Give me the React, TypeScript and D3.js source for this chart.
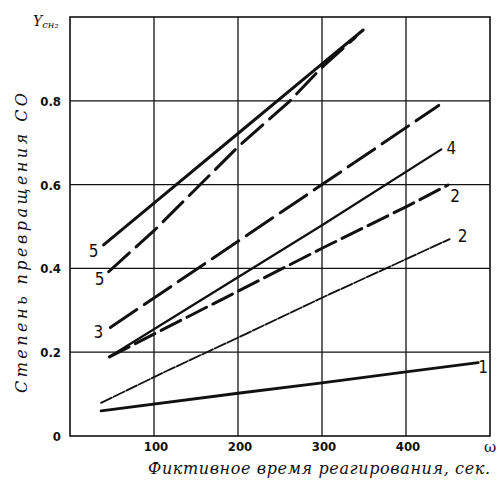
import React from "react";
import * as d3 from "d3";

const W = 498;
const H = 481;

// Axis ticks
const xTicks = [100, 200, 300, 400];
const yTicks = [0, 0.2, 0.4, 0.6, 0.8];
const yTickLabels = ["0", "0.2", "0.4", "0.6", "0.8"];

// Series data (x = fictitious reaction time, s; y = CO conversion)
const s1x = [37, 200, 300, 400, 486];
const s1y = [0.06, 0.102, 0.127, 0.153, 0.175];

const s2lx = [37, 115, 214, 300, 400, 452];
const s2ly = [0.079, 0.155, 0.248, 0.33, 0.422, 0.47];

const s2ux = [47, 300, 400, 450];
const s2uy = [0.189, 0.448, 0.547, 0.599];

const s3x = [48, 300, 439];
const s3y = [0.259, 0.6, 0.789];

const s4x = [47, 300, 442];
const s4y = [0.189, 0.503, 0.684];

const s5ux = [40, 100, 200, 300, 349];
const s5uy = [0.456, 0.556, 0.722, 0.888, 0.969];

const s5lx = [46, 100, 200, 262, 300, 340];
const s5ly = [0.392, 0.49, 0.69, 0.8, 0.88, 0.952];

const seriesNames = ["1", "2", "2", "3", "4", "5", "5"];

// styles per series (same order)
const seriesStyles = [
  { xs: s1x, ys: s1y, w: 2.8, dash: "", lab: "end", dx: 5, dy: 10 },
  { xs: s2lx, ys: s2ly, w: 1.8, dash: "12,2", lab: "end", dx: 13, dy: 3 },
  { xs: s2ux, ys: s2uy, w: 3, dash: "22,7", lab: "end", dx: 7, dy: 17 },
  { xs: s3x, ys: s3y, w: 3, dash: "32,9", lab: "start", dx: -12, dy: 11 },
  { xs: s4x, ys: s4y, w: 2.3, dash: "", lab: "end", dx: 10, dy: 5 },
  { xs: s5ux, ys: s5uy, w: 3, dash: "", lab: "start", dx: -10, dy: 12 },
  { xs: s5lx, ys: s5ly, w: 3, dash: "28,9", lab: "start", dx: -9, dy: 13 },
];

const left = 70, right = 490, top = 17, bottom = 436;

export default function App() {
  const x = d3.scaleLinear().domain([0, 500]).range([left, right]);
  const y = d3.scaleLinear().domain([0, 1]).range([bottom, top]);
  const line = d3
    .line<[number, number]>()
    .x((d) => x(d[0]))
    .y((d) => y(d[1]));

  const narrow = "'Liberation Sans Narrow', 'DejaVu Sans Condensed', 'Liberation Sans', sans-serif";
  const ital = "'DejaVu Serif', 'Liberation Serif', serif";

  return (
    <svg
      width={W}
      height={H}
      style={{ position: "absolute", left: 0, top: 0, background: "#fff" }}
    >
      <rect x={0} y={0} width={W} height={H} fill="#fff" />
      {/* grid */}
      {xTicks.map((t) => (
        <line key={"gx" + t} x1={x(t)} x2={x(t)} y1={top} y2={bottom} stroke="#111" strokeWidth={1.3} />
      ))}
      {yTicks.slice(1).map((t) => (
        <line key={"gy" + t} x1={left} x2={right} y1={y(t)} y2={y(t)} stroke="#111" strokeWidth={1.3} />
      ))}
      {/* frame */}
      <rect x={left} y={top} width={right - left} height={bottom - top} fill="none" stroke="#111" strokeWidth={1.6} />

      {/* tick labels */}
      {yTicks.map((t, i) => (
        <text key={"yl" + t} x={61} y={y(t) + 5} textAnchor="end" fontFamily={narrow} fontWeight="bold" fontSize={13} fill="#111">
          {yTickLabels[i]}
        </text>
      ))}
      {xTicks.map((t) => (
        <text key={"xl" + t} x={x(t) + 2} y={451} textAnchor="middle" fontFamily={narrow} fontWeight="bold" fontSize={13} fill="#111">
          {t}
        </text>
      ))}
      <text x={490} y={452} textAnchor="middle" fontFamily={ital} fontSize={15} fill="#111">ω</text>

      {/* axis titles */}
      <text x={148} y={474} fontFamily={ital} fontStyle="italic" fontSize={16} textLength={342} lengthAdjust="spacing" fill="#111">
        Фиктивное время реагирования, сек.
      </text>
      <text
        transform={`translate(27, 393) rotate(-90)`}
        fontFamily={ital}
        fontStyle="italic"
        fontSize={16}
        textLength={300}
        lengthAdjust="spacing"
        fill="#111"
      >
        Степень превращения СО
      </text>
      <text x={33} y={26} fontFamily={ital} fontStyle="italic" fontSize={14} fill="#111">
        Y<tspan fontSize={10} dy={2}>сн₂</tspan>
      </text>

      {/* series */}
      {seriesStyles.map((s, i) => {
        const pts: [number, number][] = s.xs.map((v, j) => [v, s.ys[j]]);
        return (
          <path
            key={"s" + i}
            d={line(pts) || ""}
            fill="none"
            stroke="#111"
            strokeWidth={s.w}
            strokeDasharray={s.dash || undefined}
            strokeLinecap="round"
          />
        );
      })}
      {seriesStyles.map((s, i) => {
        const k = s.lab === "end" ? s.xs.length - 1 : 0;
        const px = x(s.xs[k]) + s.dx;
        const py = y(s.ys[k]) + s.dy;
        return (
          <text key={"lab" + i} x={px} y={py} textAnchor="middle" fontFamily={narrow} fontSize={17} fill="#111">
            {seriesNames[i]}
          </text>
        );
      })}
    </svg>
  );
}
